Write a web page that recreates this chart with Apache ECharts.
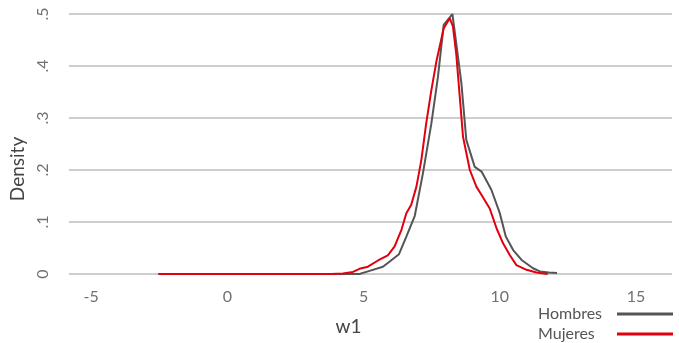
<!DOCTYPE html>
<html><head><meta charset="utf-8">
<script src="https://cdn.jsdelivr.net/npm/echarts@6/dist/echarts.min.js"></script>
<style>html,body{margin:0;padding:0;background:#fff}#c{width:679px;height:343px}</style>
</head><body><div id="c"></div>
<script>
const xTicks = [-5, 0, 5, 10, 15];
const yTicks = [0, 0.1, 0.2, 0.3, 0.4, 0.5];
const seriesNames = ['Hombres', 'Mujeres'];
const hombresX = [-2.53,0,2,4,4.85,5.22,5.71,5.96,6.30,6.57,6.88,7.18,7.49,7.73,7.94,8.26,8.40,8.59,8.77,9.08,9.33,9.69,10.0,10.22,10.49,10.80,11.22,11.47,11.8,12.1];
const hombresY = [0,0,0,0,0,0.006,0.014,0.024,0.038,0.072,0.112,0.194,0.290,0.379,0.479,0.500,0.444,0.367,0.258,0.206,0.197,0.162,0.117,0.072,0.046,0.027,0.011,0.005,0.003,0.002];
const mujeresX = [-2.53,0,2,3.8,4.24,4.61,4.85,5.16,5.53,5.89,6.14,6.39,6.57,6.75,6.94,7.12,7.30,7.49,7.67,7.94,8.16,8.28,8.40,8.53,8.65,8.90,9.14,9.33,9.63,9.88,10.12,10.37,10.61,10.98,11.35,11.76];
const mujeresY = [0,0,0,0,0.001,0.004,0.010,0.014,0.026,0.036,0.053,0.085,0.117,0.133,0.168,0.219,0.290,0.354,0.408,0.472,0.492,0.476,0.424,0.341,0.264,0.200,0.168,0.152,0.126,0.088,0.059,0.036,0.017,0.008,0.003,0];

const zip = (xs, ys) => xs.map((x, i) => [x, ys[i]]);
const fmtY = v => v === 0 ? '0' : ('.' + Math.round(v * 10));
const GRAY = '#555555', RED = '#e2000f';
const legendBase = {
  orient: 'vertical', right: 6, align: 'right', padding: 0,
  itemWidth: 56, itemHeight: 3, icon: 'rect',
  formatter: n => '{t|' + n + '}',
  textStyle: { fontSize: 16, color: '#555', fontFamily: 'Lato',
    rich: { t: { width: 74, align: 'left', fontSize: 16, color: '#555', fontFamily: 'Lato' } } }
};
const chart = echarts.init(document.getElementById('c'));
chart.setOption({
  animation: false,
  textStyle: { fontFamily: 'Lato' },
  grid: { left: 68, right: 7, top: 14, bottom: 69, containLabel: false },
  xAxis: {
    type: 'value', min: -5.815, max: 16.32,
    name: 'w1', nameLocation: 'middle', nameGap: 43,
    nameTextStyle: { fontSize: 19, color: '#444', fontFamily: 'Lato', padding: [0, 44, 0, 0] },
    axisLine: { show: false }, axisTick: { show: false },
    splitLine: { show: false },
    axisLabel: { customValues: xTicks, fontSize: 16, color: '#707070', margin: 15, fontFamily: 'Lato' }
  },
  yAxis: {
    type: 'value', min: 0, max: 0.5, interval: 0.1,
    name: 'Density', nameLocation: 'middle', nameGap: 37,
    nameTextStyle: { fontSize: 19, color: '#444', fontFamily: 'Lato', padding: [0, 50, 0, 0] },
    axisLine: { show: false }, axisTick: { show: false },
    splitLine: { show: true, lineStyle: { color: '#bdbdbd', width: 1.5 } },
    axisLabel: { customValues: yTicks, formatter: fmtY, rotate: 90, fontSize: 16, color: '#707070', margin: 18, fontFamily: 'Lato' }
  },
  legend: [
    Object.assign({}, legendBase, { data: [seriesNames[0]], top: 306 }),
    Object.assign({}, legendBase, { data: [seriesNames[1]], top: 326 })
  ],
  series: [
    { name: seriesNames[0], type: 'line', data: zip(hombresX, hombresY), showSymbol: false, symbol: 'none',
      lineStyle: { color: GRAY, width: 2 }, itemStyle: { color: GRAY } },
    { name: seriesNames[1], type: 'line', data: zip(mujeresX, mujeresY), showSymbol: false, symbol: 'none',
      lineStyle: { color: RED, width: 2 }, itemStyle: { color: RED } }
  ]
});
</script></body></html>
